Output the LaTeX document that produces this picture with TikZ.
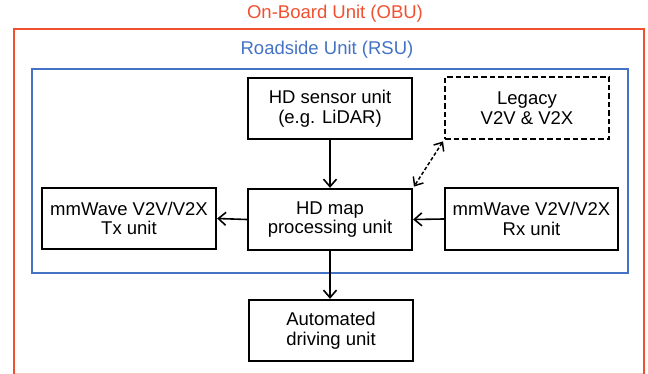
\documentclass[tikz,border=0pt]{standalone}
\usepackage{fontspec}
\setmainfont{Liberation Sans}
\usetikzlibrary{arrows.meta}
\definecolor{obured}{RGB}{240,80,48}
\definecolor{rsublue}{RGB}{68,114,196}
\tikzset{
  unitbox/.style={draw=black, line width=2.3pt, rectangle, align=center, inner sep=0pt,
    font=\fontsize{18.5}{19.5}\selectfont},
  dashbox/.style={unitbox, dash pattern=on 5.5pt off 3pt},
  conn/.style={line width=1.6pt, -{Straight Barb[length=7.5pt,width=13pt,line width=1.6pt]}},
  dconn/.style={line width=1.5pt, dash pattern=on 3.5pt off 2.2pt,
    {Straight Barb[length=7pt,width=12pt,line width=1.5pt]}-{Straight Barb[length=7pt,width=12pt,line width=1.5pt]}},
  titletext/.style={font=\fontsize{18.5}{20}\selectfont, inner sep=0pt}
}
\begin{document}
\begin{tikzpicture}[x=1pt,y=-1pt]
\useasboundingbox (0,0) rectangle (648,374);
% containers
\draw[obured, line width=2.6pt] (14,375) -- (14,29) -- (644,29) -- (644,375);
\draw[obured, line width=2.6pt, opacity=0.3] (14,374.5) -- (644,374.5);
\node[titletext, text=obured] (obut) at (335,14) {On-Board Unit (OBU)};
\draw[rsublue, line width=2.2pt] (32,69) rectangle (628,273);
\node[titletext, text=rsublue] (rsut) at (327,50) {Roadside Unit (RSU)};
% units
\node[unitbox, minimum width=164pt, minimum height=61pt] (sensor) at (330,108.5) {HD sensor unit\\(e.g. LiDAR)};
\node[dashbox, minimum width=164pt, minimum height=62pt] (legacy) at (527,108) {Legacy\\V2V \& V2X};
\node[unitbox, minimum width=174pt, minimum height=61pt] (tx) at (129,218.5) {mmWave V2V/V2X\\Tx unit};
\node[unitbox, minimum width=164pt, minimum height=61pt] (map) at (330,219.5) {HD map\\processing unit};
\node[unitbox, minimum width=173pt, minimum height=62pt] (rx) at (531.5,219) {mmWave V2V/V2X\\Rx unit};
\node[unitbox, minimum width=164pt, minimum height=61pt] (auto) at (331,330.5) {Automated\\driving unit};
% connectors
\draw[conn] (sensor.south) -- (map.north);
\draw[conn] (map.west) -- (tx.east);
\draw[conn] (rx.west) -- (map.east);
\draw[conn] (map.south) -- (map.south |- auto.north);
\draw[dconn, shorten <=1.5pt, shorten >=1.5pt] (legacy.south west) -- (map.north east);
\end{tikzpicture}
\end{document}
